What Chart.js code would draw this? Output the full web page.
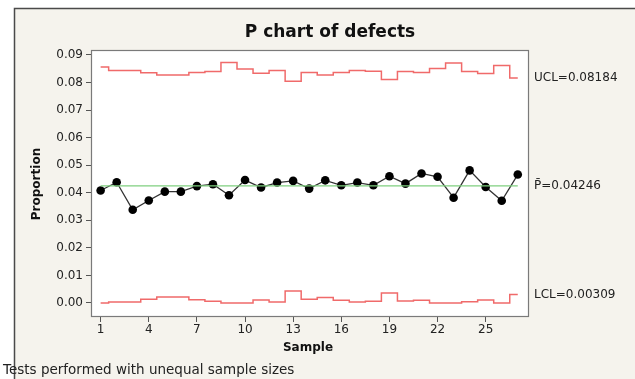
<!DOCTYPE html>
<html>
<head>
<meta charset="utf-8">
<script src="https://cdn.jsdelivr.net/npm/chart.js@4"></script>
<style>
  html, body { margin: 0; padding: 0; background: #ffffff; }
  #wrap { position: absolute; left: 0; top: 0; width: 635px; height: 379px; }
</style>
</head>
<body>
<div id="wrap"><canvas id="pchart" width="635" height="379"></canvas></div>
<script>
// Datos
const samples = [1, 2, 3, 4, 5, 6, 7, 8, 9, 10, 11, 12, 13, 14, 15, 16, 17, 18, 19, 20, 21, 22, 23, 24, 25, 26, 27];
const proportion = [0.0408, 0.0438, 0.0338, 0.0372, 0.0404, 0.0404, 0.0424, 0.0431, 0.0391, 0.0446, 0.0419, 0.0437, 0.0443, 0.0415, 0.0445,
                    0.0427, 0.0437, 0.0427, 0.0460, 0.0433, 0.0470, 0.0458, 0.0382, 0.0481, 0.0421, 0.0371, 0.0466];
const ucl = [0.0856, 0.0844, 0.0844, 0.0835, 0.0827, 0.0827, 0.0836, 0.0840, 0.0873, 0.0849, 0.0834, 0.0844, 0.0805, 0.0836, 0.0827,
             0.0836, 0.0844, 0.0841, 0.0811, 0.0840, 0.0836, 0.0851, 0.0871, 0.0840, 0.0833, 0.0862, 0.0816];
const lcl = [0.0000, 0.0003, 0.0003, 0.0013, 0.0022, 0.0022, 0.0012, 0.0006, 0.0000, 0.0000, 0.0011, 0.0003, 0.0043, 0.0013, 0.0020,
             0.0010, 0.0003, 0.0006, 0.0036, 0.0007, 0.0010, 0.0000, 0.0000, 0.0004, 0.0011, 0.0000, 0.0031];
const pBar = 0.04246;
const xTicks = [1, 4, 7, 10, 13, 16, 19, 22, 25];
const yTicks = [0, 0.01, 0.02, 0.03, 0.04, 0.05, 0.06, 0.07, 0.08, 0.09];
const limitLabels = [
    { text: 'UCL=0.08184', value: ucl[ucl.length - 1] },
    { text: 'P\u0304=0.04246', value: pBar },
    { text: 'LCL=0.00309', value: lcl[lcl.length - 1] }
];

const toPoints = (values) => values.map((v, i) => ({ x: samples[i], y: v }));
const FONT = '"DejaVu Sans", Verdana, sans-serif';

// Fondo beige, marco exterior, título y textos
const decorPlugin = {
    id: 'decor',
    beforeDraw(chart) {
        const ctx = chart.ctx;
        ctx.save();
        ctx.fillStyle = '#ffffff';
        ctx.fillRect(0, 0, chart.width, chart.height);
        ctx.fillStyle = '#f5f3ed';
        ctx.fillRect(14, 8, chart.width - 14, chart.height - 8);
        ctx.strokeStyle = '#4a4a4a';
        ctx.lineWidth = 1.5;
        ctx.beginPath();
        ctx.moveTo(14.5, chart.height);
        ctx.lineTo(14.5, 8.5);
        ctx.lineTo(chart.width, 8.5);
        ctx.stroke();

        const a = chart.chartArea;
        ctx.fillStyle = '#ffffff';
        ctx.fillRect(a.left, a.top, a.right - a.left, a.bottom - a.top);
        ctx.restore();
    },
    afterDraw(chart) {
        const ctx = chart.ctx;
        const a = chart.chartArea;
        const yScale = chart.scales.y;
        ctx.save();

        // marco del área de trazado
        ctx.strokeStyle = '#7a7a7a';
        ctx.lineWidth = 1.2;
        ctx.strokeRect(a.left + 0.5, a.top + 0.5, a.right - a.left - 1, a.bottom - a.top - 1);

        ctx.fillStyle = '#111111';
        ctx.textBaseline = 'middle';

        ctx.font = 'bold 17px ' + FONT;
        ctx.textAlign = 'center';
        ctx.fillText('P chart of defects', 330, 33);

        ctx.font = 'bold 12px ' + FONT;
        ctx.fillText('Sample', 308, 348);

        ctx.save();
        ctx.translate(37, 184);
        ctx.rotate(-Math.PI / 2);
        ctx.fillText('Proportion', 0, 0);
        ctx.restore();

        ctx.font = '12px ' + FONT;
        ctx.textAlign = 'left';
        ctx.fillStyle = '#222222';
        limitLabels.forEach(l => {
            ctx.fillText(l.text, a.right + 5, yScale.getPixelForValue(l.value));
        });

        ctx.font = '13.5px ' + FONT;
        ctx.fillText('Tests performed with unequal sample sizes', 3, 370);
        ctx.restore();
    }
};

const ctx = document.getElementById('pchart').getContext('2d');
const pChart = new Chart(ctx, {
    type: 'line',
    data: {
        datasets: [
            {
                label: 'UCL',
                data: toPoints(ucl),
                stepped: 'middle',
                borderColor: '#f06a6a',
                borderWidth: 1.5,
                pointRadius: 0,
                fill: false
            },
            {
                label: 'LCL',
                data: toPoints(lcl),
                stepped: 'middle',
                borderColor: '#f06a6a',
                borderWidth: 1.5,
                pointRadius: 0,
                fill: false
            },
            {
                label: 'P',
                data: [{ x: samples[0], y: pBar }, { x: samples[samples.length - 1], y: pBar }],
                borderColor: '#7fcf7f',
                borderWidth: 1.2,
                pointRadius: 0,
                fill: false
            },
            {
                label: 'Proportion',
                data: toPoints(proportion),
                borderColor: '#333333',
                borderWidth: 1.3,
                pointRadius: 4.3,
                pointBackgroundColor: '#000000',
                pointBorderColor: '#000000',
                pointBorderWidth: 0,
                tension: 0,
                fill: false
            }
        ]
    },
    options: {
        responsive: false,
        animation: false,
        layout: { padding: { top: 50, right: 106, bottom: 0, left: 0 } },
        plugins: {
            legend: { display: false },
            title: { display: false },
            tooltip: { enabled: false }
        },
        scales: {
            x: {
                type: 'linear',
                min: 0.4,
                max: 27.7,
                afterFit: (scale) => { scale.height = 62; },
                afterBuildTicks: (scale) => { scale.ticks = xTicks.map(v => ({ value: v })); },
                border: { display: false },
                grid: { drawOnChartArea: false, drawTicks: true, tickLength: 5, color: '#555555' },
                ticks: {
                    color: '#222222',
                    font: { family: FONT, size: 12 },
                    padding: 1,
                    maxRotation: 0,
                    callback: (v) => String(v)
                }
            },
            y: {
                type: 'linear',
                min: -0.0051,
                max: 0.0918,
                afterFit: (scale) => { scale.width = 91; },
                afterBuildTicks: (scale) => { scale.ticks = yTicks.map(v => ({ value: v })); },
                border: { display: false },
                grid: { drawOnChartArea: false, drawTicks: true, tickLength: 5, color: '#555555' },
                ticks: {
                    color: '#222222',
                    font: { family: FONT, size: 12 },
                    padding: 3,
                    callback: (v) => v.toFixed(2)
                }
            }
        }
    },
    plugins: [decorPlugin]
});
</script>
</body>
</html>
